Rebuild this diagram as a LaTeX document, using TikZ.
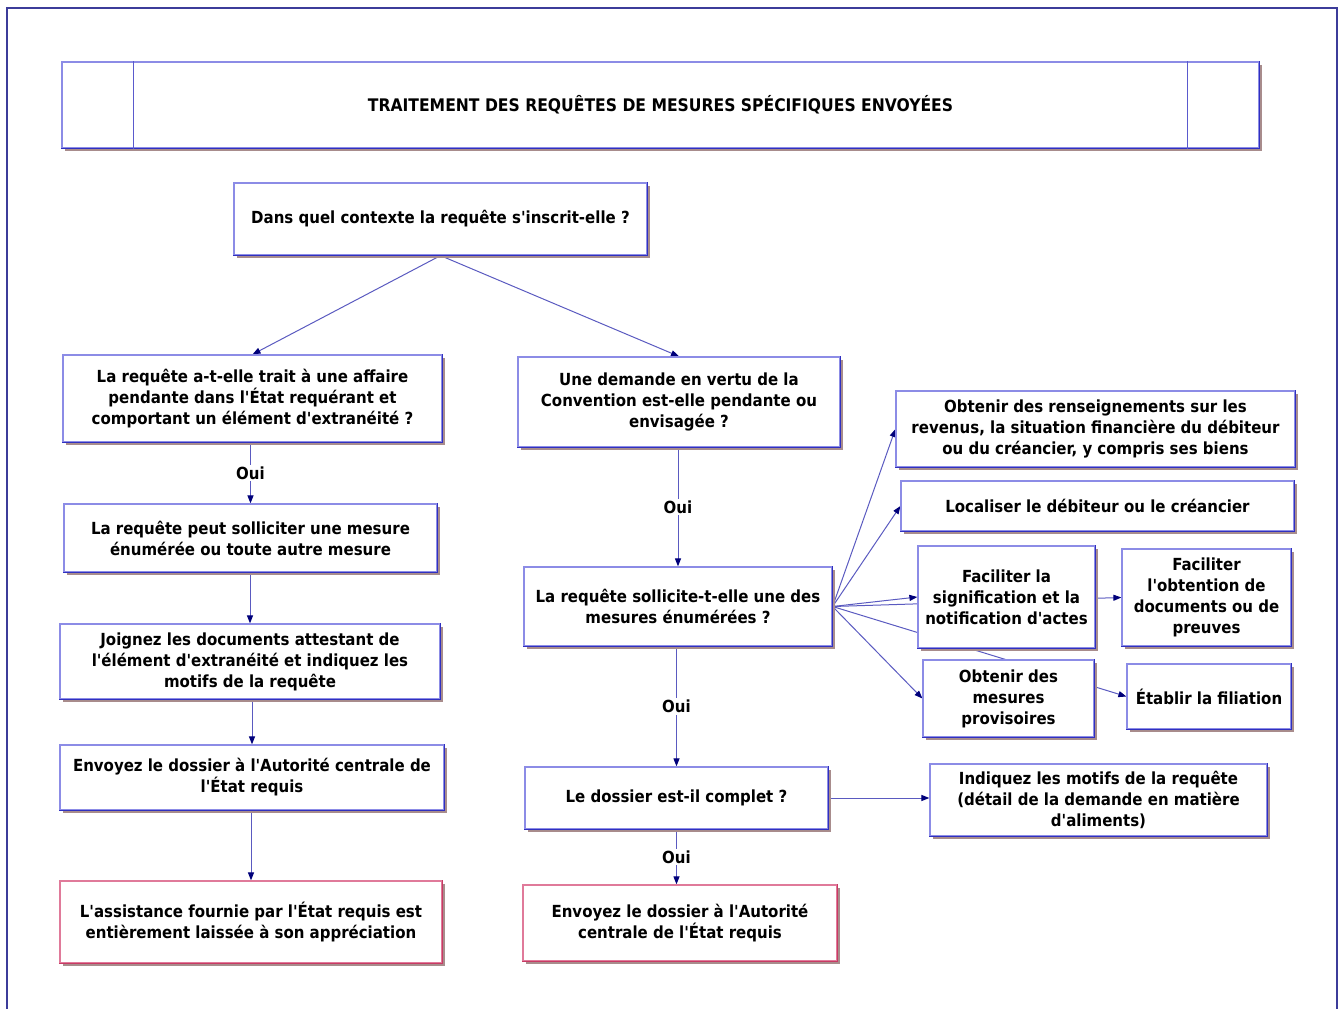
\documentclass[tikz,border=0pt]{standalone}
\usepackage{fontspec}
\newfontfamily\dv{DejaVu Sans Condensed}
\usetikzlibrary{arrows.meta,shadows,backgrounds,calc}

\definecolor{framec}{HTML}{3C3C9A}
\definecolor{edgelight}{HTML}{8C8CE6}
\definecolor{edgedark}{HTML}{3030C0}
\definecolor{redlight}{HTML}{E07A9A}
\definecolor{reddark}{HTML}{C83A64}
\definecolor{shade}{HTML}{A88C8C}
\definecolor{wire}{HTML}{5A5AC0}
\definecolor{tipc}{HTML}{00007A}

\tikzset{
  txt/.style={font=\dv\bfseries\fontsize{12.5}{15.75}\selectfont, text=black},
  sz/.style 2 args={minimum width=#1*0.75pt, minimum height=#2*0.75pt},
  bevel/.style={append after command={\pgfextra{\let\lastbox=\tikzlastnode}
      (\lastbox.south west) edge[draw=#1, line width=0.9pt, line cap=rect] (\lastbox.south east)
      (\lastbox.south east) edge[draw=#1, line width=0.9pt, line cap=rect] (\lastbox.north east)}},
  box/.style={txt, draw=edgelight, fill=white, line width=0.9pt, align=center, inner sep=0pt,
      drop shadow={shadow xshift=2.25pt, shadow yshift=-2.25pt, fill=shade, opacity=1},
      bevel=edgedark},
  redbox/.style={box, draw=redlight, bevel=reddark},
  conn/.style={draw=wire, line width=0.75pt, -{Triangle[length=6pt,width=4.5pt,color=tipc]}},
  oui/.style={txt, fill=white, inner sep=1.5pt}
}

\begin{document}
\begin{tikzpicture}[x=0.75pt,y=-0.75pt]
\useasboundingbox (0,0) rectangle (1342,1009);

% outer frame
\draw[framec, line width=1.5pt] (7,8) rectangle (1337,1030);

% title bar with its two side cells
\node[box, sz={1197}{86}, font=\dv\bfseries\fontsize{13}{16}\selectfont] (title) at (660.5,105)
  {TRAITEMENT DES REQUÊTES DE MESURES SPÉCIFIQUES ENVOYÉES};
\draw[edgedark!80!white, line width=0.9pt] ($(title.north west)+(72,0)$) -- ($(title.south west)+(72,0)$);
\draw[edgedark!80!white, line width=0.9pt] ($(title.north east)+(-72,0)$) -- ($(title.south east)+(-72,0)$);

% question at the top
\node[box, sz={413}{72}] (A) at (440.5,219) {Dans quel contexte la requête s'inscrit-elle ?};

% left branch
\node[box, sz={379}{87}] (B) at (252.5,398.5)
  {La requête a-t-elle trait à une affaire\\pendante dans l'État requérant et\\comportant un élément d'extranéité ?};
\node[box, sz={373}{68}] (C) at (250.5,538)
  {La requête peut solliciter une mesure\\énumérée ou toute autre mesure};
\node[box, sz={380}{75}] (D) at (250,661.5)
  {Joignez les documents attestant de\\l'élément d'extranéité et indiquez les\\motifs de la requête};
\node[box, sz={384}{65}] (E) at (252,777.5)
  {Envoyez le dossier à l'Autorité centrale de\\l'État requis};
\node[redbox, sz={382}{82}] (F) at (251,922)
  {L'assistance fournie par l'État requis est\\entièrement laissée à son appréciation};

% middle branch
\node[box, sz={322}{90}] (G) at (679,402)
  {Une demande en vertu de la\\Convention est-elle pendante ou\\envisagée ?};
\node[box, sz={308}{79}] (H) at (678,606.5)
  {La requête sollicite-t-elle une des\\mesures énumérées ?};
\node[box, sz={303}{62}] (I) at (676.5,798) {Le dossier est-il complet ?};
\node[redbox, sz={314}{76}] (J) at (680,923)
  {Envoyez le dossier à l'Autorité\\centrale de l'État requis};

% listed measures
\node[box, sz={399}{76}] (K) at (1095.5,429)
  {Obtenir des renseignements sur les\\revenus, la situation financière du débiteur\\ou du créancier, y compris ses biens};
\node[box, sz={393}{50}] (L) at (1097.5,506) {Localiser le débiteur ou le créancier};
\node[box, sz={177}{102}] (M) at (1006.5,597)
  {Faciliter la\\signification et la\\notification d'actes};
\node[box, sz={169}{97}] (N) at (1206.5,597.5)
  {Faciliter\\l'obtention de\\documents ou de\\preuves};
\node[box, sz={171}{77}] (O) at (1008.5,698.5)
  {Obtenir des\\mesures\\provisoires};
\node[box, sz={164}{65}] (P) at (1209,696.5) {Établir la filiation};
\node[box, sz={337}{72}] (Q) at (1098.5,800)
  {Indiquez les motifs de la requête\\(détail de la demande en matière\\d'aliments)};

% connectors, kept behind the boxes
\begin{pgfonlayer}{background}
\draw[conn] (A.south) -- (B.north);
\draw[conn] (A.south) -- (G.north);
\draw[conn] (C.north |- B.south) -- node[oui] {Oui} (C.north);
\draw[conn] (D.north |- C.south) -- (D.north);
\draw[conn] (E.north |- D.south) -- (E.north);
\draw[conn] (F.north |- E.south) -- (F.north);
\draw[conn] (H.north |- G.south) -- node[oui] {Oui} (H.north);
\draw[conn] (I.north |- H.south) -- node[oui] {Oui} (I.north);
\draw[conn] (I.south) -- node[oui] {Oui} (I.south |- J.north);
\draw[conn] (I.east) -- (I.east -| Q.west);
\foreach \t in {K,L,M,N,O,P}
  \draw[conn] (H.east) -- (\t.west);
\end{pgfonlayer}
\end{tikzpicture}
\end{document}
